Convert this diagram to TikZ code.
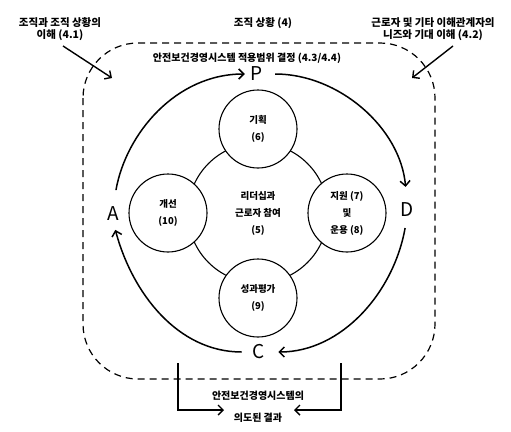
\documentclass[tikz,border=0pt]{standalone}
\usepackage{fontspec}
\setmainfont{Noto Sans CJK KR}
\usetikzlibrary{arrows.meta,positioning,calc}
\tikzset{
  phase/.style={font=\fontsize{19}{19}\selectfont,inner sep=0pt},
  clause/.style={circle,draw,line width=1.1pt,fill=white,minimum size=78pt,inner sep=0pt,
    align=center,font=\bfseries\fontsize{9.5}{17}\selectfont},
  note/.style={align=center,font=\bfseries\fontsize{10.5}{12}\selectfont},
  cycle/.style={line width=1.5pt,-{Straight Barb[length=5pt,width=10pt]}},
  feed/.style={line width=1.4pt,-{Straight Barb[length=5pt,width=10pt]}},
}

\begin{document}
\begin{tikzpicture}[x=1pt,y=-1pt]
  \useasboundingbox (0,0) rectangle (511,431);
  % context boundary
  \draw[line width=1.2pt,dash pattern=on 7pt off 5pt,rounded corners=55pt] (83,43) rectangle (435,379);
  % outside texts
  \node[note] (ctx) at (263,23) {조직 상황 (4)};
  \node[note] (ctxA) at (60,29) {조직과 조직 상황의\\이해 (4.1)};
  \node[note] (ctxB) at (433,29) {근로자 및 기타 이해관계자의\\니즈와 기대 이해 (4.2)};
  \node[note,font=\bfseries\fontsize{10}{12}\selectfont] (scope) at (247,58) {안전보건경영시스템 적용범위 결정 (4.3/4.4)};
  \node[note,font=\bfseries\fontsize{10}{22}\selectfont] (result) at (258,407) {안전보건경영시스템의\\의도된 결과};
  % input and output arrows
  \coordinate (inAs) at (63,46);
  \coordinate (inAe) at (112,78);
  \coordinate (inBs) at (453,46);
  \coordinate (inBe) at (412,78);
  \draw[feed] (inAs) -- (inAe);
  \draw[feed] (inBs) -- (inBe);
  \coordinate (outL) at (178,363);
  \coordinate (outLe) at (224,410);
  \coordinate (outR) at (341,363);
  \coordinate (outRe) at (294,410);
  \draw[feed] (outL) |- (outLe);
  \draw[feed] (outR) |- (outRe);
  % clauses
  \node[clause,minimum size=140pt] (lead) at (258,213) {리더십과\\근로자 참여\\(5)};
  \node[clause] (plan) at (258,129) {기획\\(6)};
  \node[clause] (supp) at (347,213) {지원 (7)\\및\\운용 (8)};
  \node[clause] (eval) at (258,298) {성과평가\\(9)};
  \node[clause] (impr) at (168,213) {개선\\(10)};
  % PDCA
  \node[phase] (P) at (257,74) {P};
  \node[phase] (D) at (407,210) {D};
  \node[phase] (C) at (259,352) {C};
  \node[phase] (A) at (113,214) {A};
  \draw[cycle,shorten <=17pt,shorten >=6pt] (A.north) to[out=80,in=180] (P.west);
  \draw[cycle,shorten <=12pt,shorten >=16pt] (P.east) to[out=0,in=95] (D.north);
  \draw[cycle,shorten <=11pt,shorten >=13pt] (D.south) to[out=-100,in=0] (C.east);
  \draw[cycle,shorten <=11pt,shorten >=9pt] (C.west) to[out=180,in=-75] (A.south);
\end{tikzpicture}
\end{document}
